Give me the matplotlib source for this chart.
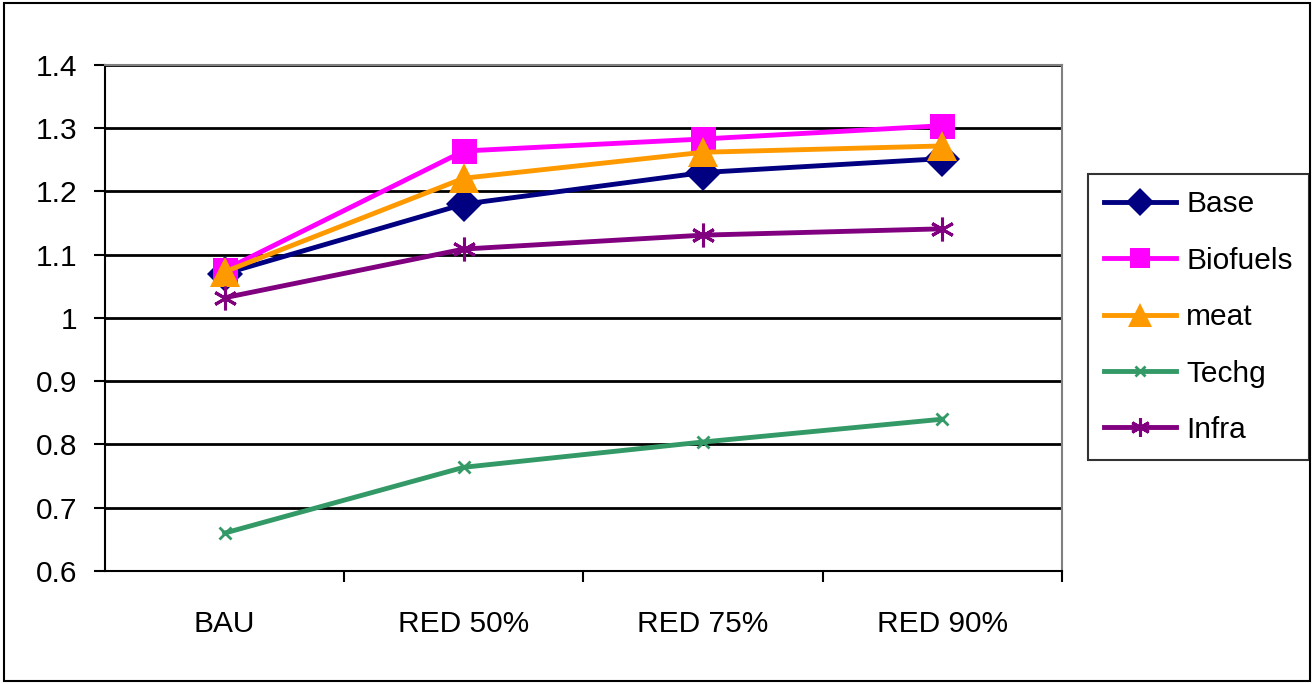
import matplotlib.pyplot as plt
from matplotlib.patches import Rectangle

plt.rcParams['font.family'] = ['Liberation Sans', 'DejaVu Sans']

categories = ["BAU", "RED 50%", "RED 75%", "RED 90%"]
base = [1.07, 1.18, 1.23, 1.252]
biofuels = [1.076, 1.264, 1.283, 1.304]
meat = [1.073, 1.221, 1.262, 1.272]
techg = [0.66, 0.764, 0.804, 0.84]
infra = [1.032, 1.109, 1.131, 1.141]
y_ticks = [0.6, 0.7, 0.8, 0.9, 1.0, 1.1, 1.2, 1.3, 1.4]
y_labels = ["0.6", "0.7", "0.8", "0.9", "1", "1.1", "1.2", "1.3", "1.4"]

# name, values, colour, marker, marker size, marker edge width
series = [
    ("Base", base, "#000080", "D", 18, 0),
    ("Biofuels", biofuels, "#FF00FF", "s", 18, 0),
    ("meat", meat, "#FF9900", "^", 21, 0),
    ("Techg", techg, "#339966", "x", 9, 2),
    ("Infra", infra, "#800080", (6, 2, 0), 17, 2.2),
]

fig = plt.figure(figsize=(13.14, 6.84), dpi=100)
fig.patches.append(Rectangle((0.003, 0.005), 0.994, 0.99, transform=fig.transFigure,
                             fill=False, edgecolor="black", linewidth=1.5))
ax = fig.add_axes([0.0799, 0.1652, 0.7283, 0.7398])

x = list(range(len(categories)))
for name, vals, color, marker, ms, mew in series:
    ax.plot(x, vals, color=color, linewidth=3.5, marker=marker, markersize=ms,
            markeredgewidth=mew, zorder=3, label=name)

ax.set_xlim(-0.5, 3.5)
ax.set_ylim(0.6, 1.4)
ax.set_yticks(y_ticks)
ax.set_yticklabels(y_labels, fontsize=21.5)
ax.set_xticks(x)
ax.set_xticklabels(categories, fontsize=21.5)
ax.tick_params(axis="x", length=0, pad=28)
ax.set_xticks([0.5, 1.5, 2.5, 3.5], minor=True)
ax.tick_params(axis="x", which="minor", length=8, width=1.5, direction="out")
ax.tick_params(axis="y", length=8, width=1.5, direction="out", pad=12)
ax.yaxis.grid(True, color="black", linewidth=2)
ax.set_axisbelow(True)
for side in ("top", "right"):
    ax.spines[side].set_color("#808080")
    ax.spines[side].set_linewidth(1.5)
for side in ("left", "bottom"):
    ax.spines[side].set_color("black")
    ax.spines[side].set_linewidth(1.5)

leg = fig.legend(loc="upper left", bbox_to_anchor=(1088 / 1314, 1 - 174 / 684),
                 fontsize=21.5, frameon=True, fancybox=False, edgecolor="black",
                 handlelength=2.4, labelspacing=0.95, borderpad=0.55,
                 borderaxespad=0, handletextpad=0.34, markerscale=0.8)
leg.get_frame().set_linewidth(1.5)

fig.savefig("out.png", dpi=100)
